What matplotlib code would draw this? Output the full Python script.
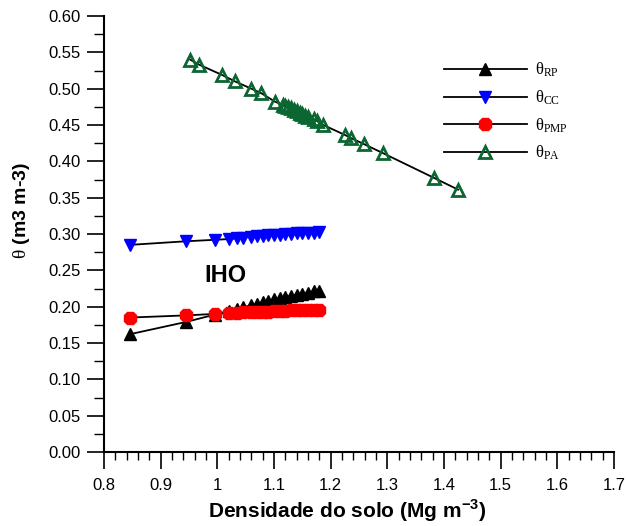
import numpy as np
import matplotlib
matplotlib.use('Agg')
import matplotlib.pyplot as plt
from matplotlib.ticker import MultipleLocator

plt.rcParams['font.family'] = ['Liberation Sans', 'DejaVu Sans']
plt.rcParams['mathtext.fontset'] = 'custom'
plt.rcParams['mathtext.rm'] = 'Liberation Serif'
plt.rcParams['mathtext.bf'] = 'Liberation Sans:bold'

# densidade do solo for RP / CC / PMP
ds = [0.845, 0.945, 0.995, 1.02, 1.035, 1.045, 1.06, 1.07, 1.08, 1.09, 1.10,
      1.11, 1.12, 1.13, 1.14, 1.15, 1.16, 1.17, 1.18]
theta_rp = [0.162, 0.179, 0.189, 0.194, 0.197, 0.199, 0.202, 0.204, 0.206, 0.208,
            0.210, 0.212, 0.213, 0.215, 0.216, 0.218, 0.219, 0.221, 0.222]
theta_cc = [0.285, 0.290, 0.292, 0.293, 0.294, 0.295, 0.296, 0.297, 0.297, 0.298,
            0.299, 0.299, 0.300, 0.300, 0.301, 0.301, 0.302, 0.302, 0.303]
theta_pmp = [0.185, 0.188, 0.190, 0.191, 0.191, 0.192, 0.192, 0.193, 0.193, 0.193,
             0.194, 0.194, 0.194, 0.195, 0.195, 0.195, 0.195, 0.196, 0.196]

# densidade for PA
ds_pa = [0.952, 0.968, 1.008, 1.031, 1.060, 1.077, 1.102, 1.115, 1.120, 1.125,
         1.130, 1.135, 1.140, 1.145, 1.150, 1.155, 1.160, 1.170, 1.175, 1.187,
         1.226, 1.236, 1.258, 1.293, 1.383, 1.425]
theta_pa = [0.540, 0.533, 0.519, 0.510, 0.500, 0.494, 0.482, 0.478, 0.476, 0.475,
            0.473, 0.471, 0.469, 0.467, 0.465, 0.463, 0.461, 0.458, 0.456, 0.450,
            0.436, 0.432, 0.424, 0.411, 0.377, 0.361]

fig = plt.figure(figsize=(6.27, 5.26), dpi=100)
ax = fig.add_axes([104 / 627, 1 - 452 / 526, 510 / 627, 436 / 526])

ax.plot(ds, theta_rp, color='black', lw=1.3, marker='^', ms=8, mfc='black',
        mec='black', label=r'$\mathrm{\theta_{RP}}$')
ax.plot(ds, theta_cc, color='black', lw=1.3, marker='v', ms=9, mfc='#0000ff',
        mec='#0000ff', label=r'$\mathrm{\theta_{CC}}$')
ax.plot(ds, theta_pmp, color='black', lw=1.3, marker='8', ms=10, mfc='#ff0000',
        mec='#ff0000', label=r'$\mathrm{\theta_{PMP}}$')
ax.plot(ds_pa, theta_pa, color='black', lw=1.3, marker='^', ms=9, mfc='none',
        mec='#0b6631', mew=2, label=r'$\mathrm{\theta_{PA}}$')

ax.text(1.014, 0.243, 'IHO', fontsize=17, fontweight='bold', ha='center', va='center')

ax.set_xlim(0.8, 1.7)
ax.set_ylim(0, 0.6)
ax.spines['top'].set_visible(False)
ax.spines['right'].set_visible(False)
ax.spines['left'].set_linewidth(1.5)
ax.spines['bottom'].set_linewidth(1.5)

ax.set_xticks(np.arange(0.8, 1.71, 0.1))
ax.set_xticklabels(['0.8', '0.9', '1', '1.1', '1.2', '1.3', '1.4', '1.5', '1.6', '1.7'])
ax.xaxis.set_minor_locator(MultipleLocator(0.02))
ax.set_yticks(np.arange(0, 0.601, 0.05))
ax.set_yticklabels([f'{v:.2f}' for v in np.arange(0, 0.601, 0.05)])
ax.yaxis.set_minor_locator(MultipleLocator(0.025))
ax.tick_params(axis='x', which='major', direction='out', length=12, width=1.2,
               labelsize=12, pad=7)
ax.tick_params(axis='x', which='minor', direction='out', length=6, width=1)
ax.tick_params(axis='y', which='major', direction='out', length=12, width=1.2,
               labelsize=12, pad=5)
ax.tick_params(axis='y', which='minor', direction='out', length=7, width=1)

ax.set_xlabel(r'Densidade do solo (Mg m$^{\mathbf{-3}}$)', fontsize=15,
              fontweight='bold')
ax.xaxis.set_label_coords(0.477, -0.103)
ax.set_ylabel(r'$\mathrm{\theta}$ (m3 m-3)', fontsize=14, fontweight='bold')
ax.yaxis.set_label_coords(-0.141, 0.555)

ax.legend(loc='upper left', bbox_to_anchor=(0.653, 0.912), frameon=False,
          fontsize=12, handlelength=5.0, handletextpad=0.45, labelspacing=0.55,
          borderaxespad=0)

fig.savefig('out.png', dpi=100)
